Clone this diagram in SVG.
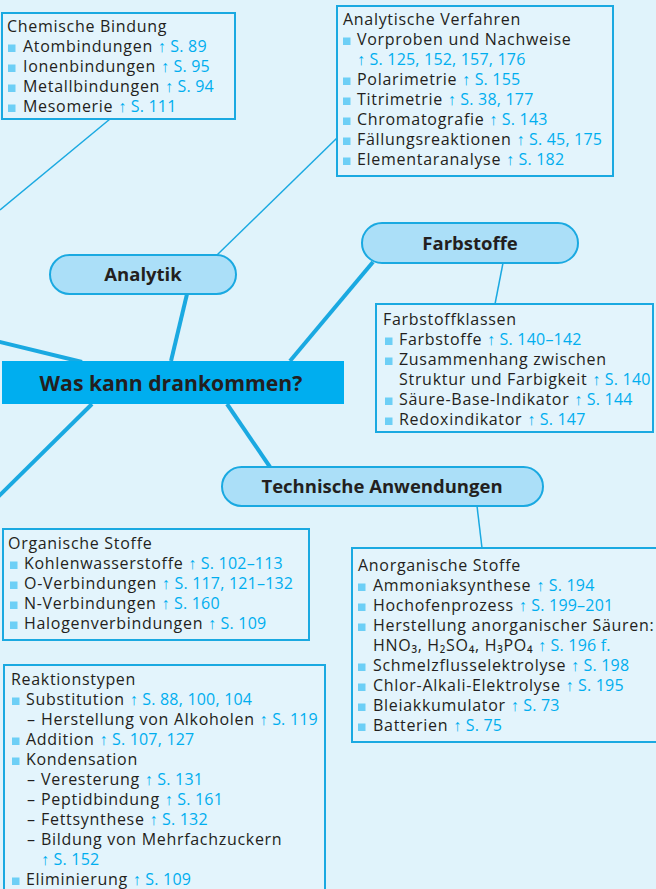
<svg xmlns="http://www.w3.org/2000/svg" width="656" height="889" viewBox="0 0 656 889">
<defs>
<style>
.bg{fill:#e0f3fb}
.box{fill:#e3f4fc;stroke:#1aa9e1;stroke-width:2}
.pill{fill:#abdff8;stroke:#1aa9e1;stroke-width:2}
.core{fill:#00aeef}
.thin{stroke:#1aa9e1;stroke-width:1.5;fill:none}
.thick{stroke:#1aa9e1;stroke-width:4;fill:none}
.t{font-family:"Open Sans","Noto Sans","Liberation Sans",sans-serif;font-size:16px;letter-spacing:0.7px;fill:#231f20}
.r{fill:#00aeef;letter-spacing:0.2px}
.h{font-family:"Open Sans","Noto Sans","Liberation Sans",sans-serif;font-size:18.5px;font-weight:bold;fill:#231f20;text-anchor:middle}
.hc{font-family:"Open Sans","Noto Sans","Liberation Sans",sans-serif;font-size:21.2px;font-weight:bold;fill:#231f20;text-anchor:middle}
.b{fill:#6dcff6}
</style>
</defs>
<rect class="bg" x="0" y="0" width="656" height="889"/>
<g id="connectors">
<line class="thin" x1="0" y1="210" x2="110" y2="119"/>
<line class="thin" x1="217" y1="255" x2="337" y2="138"/>
<line class="thick" x1="187" y1="294" x2="171" y2="361"/>
<line class="thick" x1="-4" y1="341" x2="82" y2="362"/>
<line class="thick" x1="92" y1="404" x2="-2" y2="497"/>
<line class="thick" x1="227" y1="404" x2="270" y2="467"/>
<line class="thick" x1="290" y1="361" x2="373" y2="262"/>
<line class="thin" x1="503" y1="263" x2="495" y2="304"/>
<line class="thin" x1="477" y1="506" x2="482" y2="548"/>
</g>
<g id="chemische-bindung">
<rect class="box" x="2" y="13" width="233" height="106"/>
<text class="t" x="7" y="32">Chemische Bindung</text>
<rect class="b" x="8" y="44.5" width="7.5" height="7.5"/>
<text class="t" x="23" y="52">Atombindungen <tspan class="r">↑ S. 89</tspan></text>
<rect class="b" x="8" y="64.5" width="7.5" height="7.5"/>
<text class="t" x="23" y="72">Ionenbindungen <tspan class="r">↑ S. 95</tspan></text>
<rect class="b" x="8" y="84.5" width="7.5" height="7.5"/>
<text class="t" x="23" y="92">Metallbindungen <tspan class="r">↑ S. 94</tspan></text>
<rect class="b" x="8" y="104.5" width="7.5" height="7.5"/>
<text class="t" x="23" y="112">Mesomerie <tspan class="r">↑ S. 111</tspan></text>
</g>
<g id="analytische-verfahren">
<rect class="box" x="337" y="6" width="276" height="170"/>
<text class="t" x="343" y="25">Analytische Verfahren</text>
<rect class="b" x="343" y="37.5" width="7.5" height="7.5"/>
<text class="t" x="357" y="45">Vorproben und Nachweise</text>
<text class="t r" x="357" y="65">↑ S. 125, 152, 157, 176</text>
<rect class="b" x="343" y="77.5" width="7.5" height="7.5"/>
<text class="t" x="357" y="85">Polarimetrie <tspan class="r">↑ S. 155</tspan></text>
<rect class="b" x="343" y="97.5" width="7.5" height="7.5"/>
<text class="t" x="357" y="105">Titrimetrie <tspan class="r">↑ S. 38, 177</tspan></text>
<rect class="b" x="343" y="117.5" width="7.5" height="7.5"/>
<text class="t" x="357" y="125">Chromatografie <tspan class="r">↑ S. 143</tspan></text>
<rect class="b" x="343" y="137.5" width="7.5" height="7.5"/>
<text class="t" x="357" y="145">Fällungsreaktionen <tspan class="r">↑ S. 45, 175</tspan></text>
<rect class="b" x="343" y="157.5" width="7.5" height="7.5"/>
<text class="t" x="357" y="165">Elementaranalyse <tspan class="r">↑ S. 182</tspan></text>
</g>
<g id="analytik">
<rect class="pill" x="50" y="255" width="186" height="39" rx="19.5"/>
<text class="h" x="143" y="281">Analytik</text>
</g>
<g id="farbstoffe">
<rect class="pill" x="362" y="223" width="216" height="40" rx="20"/>
<text class="h" x="470" y="249.5">Farbstoffe</text>
</g>
<g id="center">
<rect class="core" x="2" y="361" width="342" height="43"/>
<text class="hc" x="171" y="391">Was kann drankommen?</text>
</g>
<g id="farbstoffklassen">
<rect class="box" x="376" y="304" width="277" height="128"/>
<text class="t" x="383" y="325">Farbstoffklassen</text>
<rect class="b" x="385" y="337.5" width="7.5" height="7.5"/>
<text class="t" x="399" y="345">Farbstoffe <tspan class="r">↑ S. 140–142</tspan></text>
<rect class="b" x="385" y="357.5" width="7.5" height="7.5"/>
<text class="t" x="399" y="365">Zusammenhang zwischen</text>
<text class="t" x="399" y="385">Struktur und Farbigkeit <tspan class="r">↑ S. 140</tspan></text>
<rect class="b" x="385" y="397.5" width="7.5" height="7.5"/>
<text class="t" x="399" y="405">Säure-Base-Indikator <tspan class="r">↑ S. 144</tspan></text>
<rect class="b" x="385" y="417.5" width="7.5" height="7.5"/>
<text class="t" x="399" y="425">Redoxindikator <tspan class="r">↑ S. 147</tspan></text>
</g>
<g id="technische-anwendungen">
<rect class="pill" x="222" y="467" width="321" height="39" rx="19.5"/>
<text class="h" x="382" y="493">Technische Anwendungen</text>
</g>
<g id="organische-stoffe">
<rect class="box" x="3" y="529" width="306" height="111"/>
<text class="t" x="8" y="549">Organische Stoffe</text>
<rect class="b" x="10" y="561.5" width="7.5" height="7.5"/>
<text class="t" x="24" y="569">Kohlenwasserstoffe <tspan class="r">↑ S. 102–113</tspan></text>
<rect class="b" x="10" y="581.5" width="7.5" height="7.5"/>
<text class="t" x="24" y="589">O-Verbindungen <tspan class="r">↑ S. 117, 121–132</tspan></text>
<rect class="b" x="10" y="601.5" width="7.5" height="7.5"/>
<text class="t" x="24" y="609">N-Verbindungen <tspan class="r">↑ S. 160</tspan></text>
<rect class="b" x="10" y="621.5" width="7.5" height="7.5"/>
<text class="t" x="24" y="629">Halogenverbindungen <tspan class="r">↑ S. 109</tspan></text>
</g>
<g id="anorganische-stoffe">
<rect class="box" x="352" y="548" width="310" height="194"/>
<text class="t" x="358" y="571">Anorganische Stoffe</text>
<rect class="b" x="358" y="583.5" width="7.5" height="7.5"/>
<text class="t" x="373" y="591">Ammoniaksynthese <tspan class="r">↑ S. 194</tspan></text>
<rect class="b" x="358" y="603.5" width="7.5" height="7.5"/>
<text class="t" x="373" y="611">Hochofenprozess <tspan class="r">↑ S. 199–201</tspan></text>
<rect class="b" x="358" y="623.5" width="7.5" height="7.5"/>
<text class="t" x="373" y="631">Herstellung anorganischer Säuren:</text>
<text class="t" x="373" y="651">HNO₃, H₂SO₄, H₃PO₄ <tspan class="r">↑ S. 196 f.</tspan></text>
<rect class="b" x="358" y="663.5" width="7.5" height="7.5"/>
<text class="t" x="373" y="671">Schmelzflusselektrolyse <tspan class="r">↑ S. 198</tspan></text>
<rect class="b" x="358" y="683.5" width="7.5" height="7.5"/>
<text class="t" x="373" y="691">Chlor-Alkali-Elektrolyse <tspan class="r">↑ S. 195</tspan></text>
<rect class="b" x="358" y="703.5" width="7.5" height="7.5"/>
<text class="t" x="373" y="711">Bleiakkumulator <tspan class="r">↑ S. 73</tspan></text>
<rect class="b" x="358" y="723.5" width="7.5" height="7.5"/>
<text class="t" x="373" y="731">Batterien <tspan class="r">↑ S. 75</tspan></text>
</g>
<g id="reaktionstypen">
<rect class="box" x="4" y="665" width="321" height="240"/>
<text class="t" x="11" y="685">Reaktionstypen</text>
<rect class="b" x="12" y="697.5" width="7.5" height="7.5"/>
<text class="t" x="26" y="705">Substitution <tspan class="r">↑ S. 88, 100, 104</tspan></text>
<text class="t" x="27" y="725">–<tspan x="41">Herstellung von Alkoholen </tspan><tspan class="r">↑ S. 119</tspan></text>
<rect class="b" x="12" y="737.5" width="7.5" height="7.5"/>
<text class="t" x="26" y="745">Addition <tspan class="r">↑ S. 107, 127</tspan></text>
<rect class="b" x="12" y="757.5" width="7.5" height="7.5"/>
<text class="t" x="26" y="765">Kondensation</text>
<text class="t" x="27" y="785">–<tspan x="41">Veresterung </tspan><tspan class="r">↑ S. 131</tspan></text>
<text class="t" x="27" y="805">–<tspan x="41">Peptidbindung </tspan><tspan class="r">↑ S. 161</tspan></text>
<text class="t" x="27" y="825">–<tspan x="41">Fettsynthese </tspan><tspan class="r">↑ S. 132</tspan></text>
<text class="t" x="27" y="845">–<tspan x="41">Bildung von Mehrfachzuckern</tspan></text>
<text class="t r" x="41" y="865">↑ S. 152</text>
<rect class="b" x="12" y="877.5" width="7.5" height="7.5"/>
<text class="t" x="26" y="885">Eliminierung <tspan class="r">↑ S. 109</tspan></text>
</g>
</svg>
